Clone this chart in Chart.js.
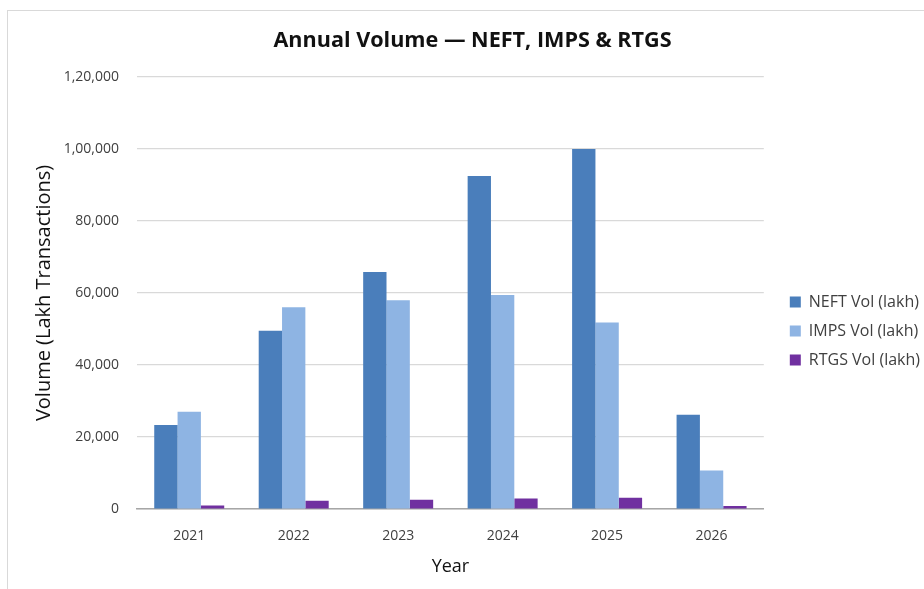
<!DOCTYPE html>
<html>
<head>
<meta charset="utf-8">
<title>Annual Volume — NEFT, IMPS & RTGS</title>
<script src="https://cdn.jsdelivr.net/npm/chart.js@4.4.1/dist/chart.umd.min.js"></script>
<style>
    html, body { margin: 0; padding: 0; background: #ffffff; overflow: hidden; }
    .frame {
        position: absolute;
        left: 7px;
        top: 10px;
        width: 917px;
        height: 579px;
        border-left: 1px solid #d9d9d9;
        border-top: 1px solid #d9d9d9;
        box-sizing: border-box;
    }
    canvas { display: block; }
</style>
</head>
<body>
<div class="frame">
    <canvas id="volumeChart" width="916" height="578"></canvas>
</div>
<script>
(function () {
    'use strict';

    var years = ['2021', '2022', '2023', '2024', '2025', '2026'];
    var neftVol = [23300, 49500, 65800, 92500, 100000, 26200];
    var impsVol = [27000, 56000, 58000, 59400, 51800, 10700];
    var rtgsVol = [1000, 2300, 2600, 2900, 3100, 850];
    var yTicks = [0, 20000, 40000, 60000, 80000, 100000, 120000];

    var C = {
        neft: '#4a7ebb',
        imps: '#8eb4e3',
        rtgs: '#7030a0',
        text: '#111111',
        muted: '#404040',
        grid: '#d9d9d9',
        axis: '#a6a6a6'
    };

    var FONT = "'Open Sans', 'Noto Sans', Arial, sans-serif";

    // lakh-style grouping: 1,20,000
    function fmtIndian(n) {
        var s = String(Math.round(n));
        if (s.length <= 3) return s;
        var last3 = s.slice(-3);
        var rest = s.slice(0, -3).replace(/\B(?=(\d{2})+(?!\d))/g, ',');
        return rest + ',' + last3;
    }

    // nudge the legend and title blocks after the layout pass
    var blockNudge = {
        id: 'blockNudge',
        afterLayout: function (chart, args, opts) {
            function shift(box, dx, dy) {
                if (!box) return;
                box.left += dx || 0;
                box.right += dx || 0;
                box.top += dy || 0;
                box.bottom += dy || 0;
            }
            shift(chart.legend, opts.legendDx, opts.legendDy);
            shift(chart.titleBlock, opts.titleDx, 0);
        }
    };

    Chart.defaults.font.family = FONT;
    Chart.defaults.color = C.muted;

    new Chart(document.getElementById('volumeChart'), {
        type: 'bar',
        data: {
            labels: years,
            datasets: [
                { label: 'NEFT Vol (lakh)', data: neftVol, backgroundColor: C.neft },
                { label: 'IMPS Vol (lakh)', data: impsVol, backgroundColor: C.imps },
                { label: 'RTGS Vol (lakh)', data: rtgsVol, backgroundColor: C.rtgs }
            ]
        },
        plugins: [blockNudge],
        options: {
            responsive: false,
            animation: false,
            datasets: {
                bar: { categoryPercentage: 0.67, barPercentage: 1.0 }
            },
            layout: { padding: { left: 0, right: 7, top: 0, bottom: 0 } },
            plugins: {
                title: {
                    display: true,
                    text: 'Annual Volume — NEFT, IMPS & RTGS',
                    color: C.text,
                    font: { size: 21.6, weight: '700', family: FONT },
                    padding: { top: 17, bottom: 23 }
                },
                legend: {
                    position: 'right',
                    align: 'center',
                    labels: {
                        boxWidth: 11,
                        boxHeight: 11,
                        padding: 13,
                        color: C.muted,
                        font: { size: 16, family: FONT }
                    }
                },
                blockNudge: { legendDx: 13, legendDy: 31, titleDx: 10 },
                tooltip: { enabled: false }
            },
            scales: {
                x: {
                    grid: { display: false, drawTicks: false },
                    border: { display: true, color: C.axis, width: 1.5 },
                    ticks: { color: C.muted, padding: 19, font: { size: 14 } },
                    title: {
                        display: true,
                        text: 'Year',
                        color: C.text,
                        font: { size: 18 },
                        padding: { top: 0, bottom: 11 }
                    },
                    afterFit: function (scale) { scale.height = 80; }
                },
                y: {
                    min: 0,
                    max: 120000,
                    grid: { color: C.grid, lineWidth: 1.2, drawTicks: false },
                    border: { display: false },
                    afterBuildTicks: function (scale) {
                        scale.ticks = yTicks.map(function (v) { return { value: v }; });
                    },
                    ticks: {
                        color: C.muted,
                        padding: 18,
                        font: { size: 14 },
                        callback: function (value) { return fmtIndian(value); }
                    },
                    title: {
                        display: true,
                        text: 'Volume (Lakh Transactions)',
                        color: C.text,
                        font: { size: 20 },
                        padding: { top: 24, bottom: 0 }
                    },
                    afterFit: function (scale) { scale.width = 129; }
                }
            }
        }
    });
})();
</script>
</body>
</html>
